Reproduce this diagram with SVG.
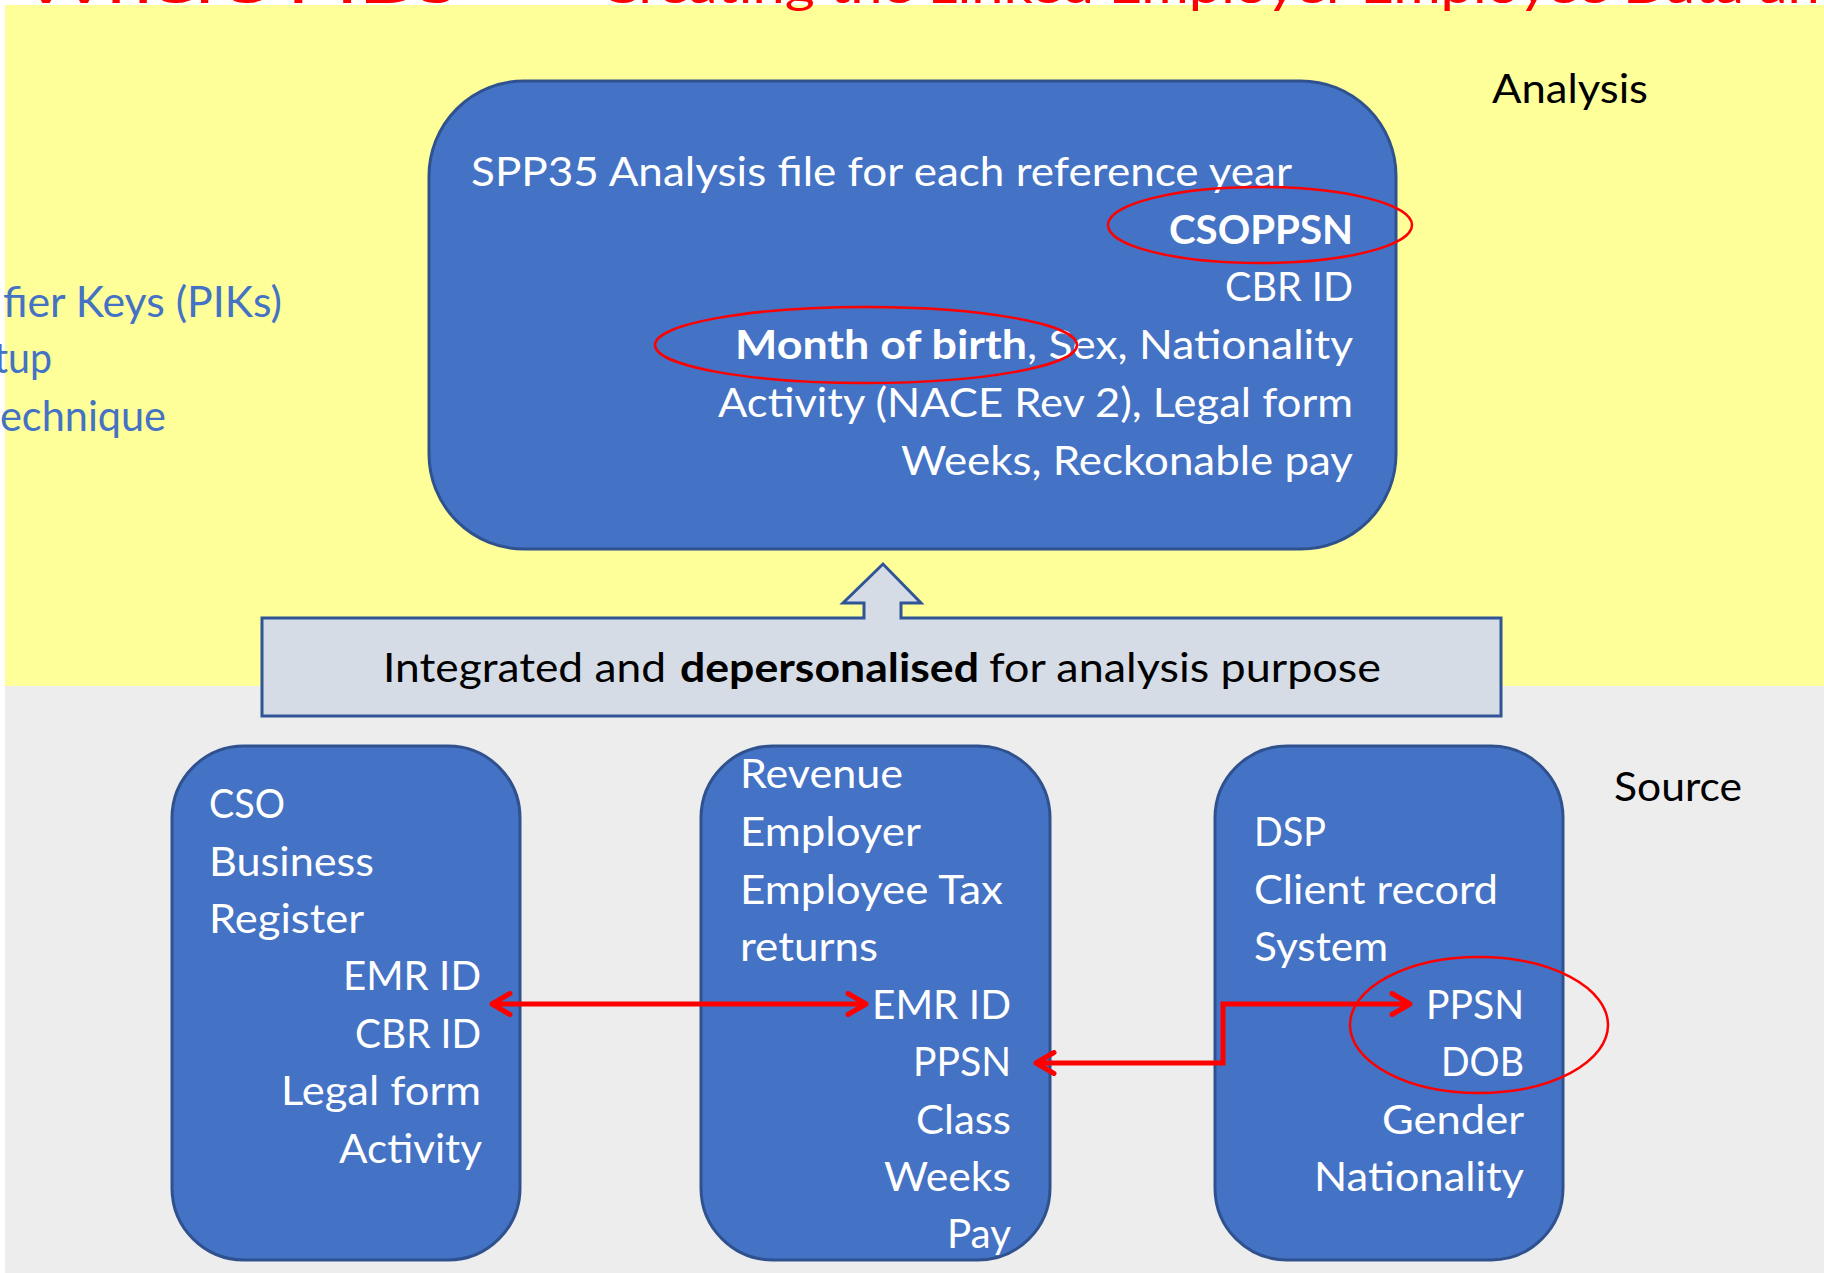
<svg xmlns="http://www.w3.org/2000/svg" width="1824" height="1273" viewBox="0 0 1824 1273">
<style>
  text { font-family: Lato, "Open Sans", "Liberation Sans", sans-serif; }
  .w { fill: #FFFFFF; font-size: 40px; }
  .b { font-weight: bold; }
  .k { fill: #000000; font-size: 40px; }
  .bl { fill: #4472C4; font-size: 42px; }
  .e { text-anchor: end; }
  .node { fill: #4472C4; stroke: #2F528F; stroke-width: 3; }
  .ring { fill: none; stroke: #FF0000; stroke-width: 2.5; }
  .conn { fill: none; stroke: #FF0000; stroke-width: 5; stroke-linejoin: miter; }
  .title { fill: #FF0000; font-size: 46px; }
</style>
<defs>
  <marker id="chev" markerUnits="userSpaceOnUse" viewBox="0 0 26 26" markerWidth="26" markerHeight="26" refX="21" refY="13" orient="auto-start-reverse">
    <path d="M5,2.5 L23,13 L5,23.5" fill="none" stroke="#FF0000" stroke-width="5" stroke-linecap="round" stroke-linejoin="round"/>
  </marker>
</defs>

<rect x="0" y="0" width="1824" height="1273" fill="#FFFFFF"/>
<rect x="5" y="5" width="1819" height="681" fill="#FFFF99"/>
<rect x="5" y="686" width="1819" height="587" fill="#EDEDED"/>

<g id="title">
  <text class="title" x="23" y="3" textLength="500" lengthAdjust="spacingAndGlyphs">Where PIDs –</text>
  <text class="title" x="600" y="3" textLength="1252" lengthAdjust="spacingAndGlyphs">Creating the Linked Employer Employee Data and</text>
</g>

<g id="side-notes">
  <text class="bl" x="3" y="317" textLength="279" lengthAdjust="spacingAndGlyphs">fier Keys (PIKs)</text>
  <text class="bl" x="-6" y="373" textLength="58" lengthAdjust="spacingAndGlyphs">tup</text>
  <text class="bl" x="0" y="431" textLength="166" lengthAdjust="spacingAndGlyphs">echnique</text>
</g>

<g id="label-analysis">
  <text class="k" x="1492" y="103" textLength="156" lengthAdjust="spacingAndGlyphs">Analysis</text>
</g>
<g id="label-source">
  <text class="k" x="1614" y="801" textLength="128" lengthAdjust="spacingAndGlyphs">Source</text>
</g>

<g id="analysis-file">
  <rect class="node" x="429" y="81" width="967" height="468" rx="95" ry="95"/>
  <text class="w" x="471" y="186" textLength="821" lengthAdjust="spacingAndGlyphs">SPP35 Analysis file for each reference year</text>
  <text class="w b e" x="1353" y="244" textLength="184" lengthAdjust="spacingAndGlyphs">CSOPPSN</text>
  <text class="w e" x="1353" y="301" textLength="128" lengthAdjust="spacingAndGlyphs">CBR ID</text>
  <text class="w b" x="735" y="359" textLength="292" lengthAdjust="spacingAndGlyphs">Month of birth</text>
  <text class="w e" x="1353" y="359" textLength="326" lengthAdjust="spacingAndGlyphs">, Sex, Nationality</text>
  <text class="w e" x="1353" y="417" textLength="635" lengthAdjust="spacingAndGlyphs">Activity (NACE Rev 2), Legal form</text>
  <text class="w e" x="1353" y="475" textLength="452" lengthAdjust="spacingAndGlyphs">Weeks, Reckonable pay</text>
  <ellipse class="ring" cx="1260" cy="225" rx="152" ry="38"/>
  <ellipse class="ring" cx="866" cy="345" rx="211" ry="38"/>
</g>

<g id="integration">
  <path d="M262,618 H864 V603 H843 L883,564 L921,603 H901 V618 H1501 V716 H262 Z" fill="#D6DCE5" stroke="#2F5597" stroke-width="3" stroke-linejoin="miter"/>
  <text class="k" x="383" y="682" textLength="283" lengthAdjust="spacingAndGlyphs">Integrated and</text>
  <text class="k b" x="680" y="682" textLength="299" lengthAdjust="spacingAndGlyphs">depersonalised</text>
  <text class="k" x="989" y="682" textLength="392" lengthAdjust="spacingAndGlyphs">for analysis purpose</text>
</g>

<g id="cso-business-register">
  <rect class="node" x="172" y="746" width="348" height="514" rx="72" ry="72"/>
  <text class="w" x="209" y="818" textLength="76" lengthAdjust="spacingAndGlyphs">CSO</text>
  <text class="w" x="209" y="876" textLength="165" lengthAdjust="spacingAndGlyphs">Business</text>
  <text class="w" x="209" y="933" textLength="155" lengthAdjust="spacingAndGlyphs">Register</text>
  <text class="w e" x="481" y="990" textLength="138" lengthAdjust="spacingAndGlyphs">EMR ID</text>
  <text class="w e" x="481" y="1048" textLength="126" lengthAdjust="spacingAndGlyphs">CBR ID</text>
  <text class="w e" x="481" y="1105" textLength="200" lengthAdjust="spacingAndGlyphs">Legal form</text>
  <text class="w e" x="482" y="1163" textLength="143" lengthAdjust="spacingAndGlyphs">Activity</text>
</g>

<g id="revenue">
  <rect class="node" x="701" y="746" width="349" height="514" rx="72" ry="72"/>
  <text class="w" x="740" y="788" textLength="163" lengthAdjust="spacingAndGlyphs">Revenue</text>
  <text class="w" x="740" y="846" textLength="181" lengthAdjust="spacingAndGlyphs">Employer</text>
  <text class="w" x="740" y="904" textLength="263" lengthAdjust="spacingAndGlyphs">Employee Tax</text>
  <text class="w" x="740" y="961" textLength="138" lengthAdjust="spacingAndGlyphs">returns</text>
  <text class="w e" x="1011" y="1019" textLength="139" lengthAdjust="spacingAndGlyphs">EMR ID</text>
  <text class="w e" x="1011" y="1076" textLength="98" lengthAdjust="spacingAndGlyphs">PPSN</text>
  <text class="w e" x="1011" y="1134" textLength="95" lengthAdjust="spacingAndGlyphs">Class</text>
  <text class="w e" x="1011" y="1191" textLength="127" lengthAdjust="spacingAndGlyphs">Weeks</text>
  <text class="w e" x="1011" y="1248" textLength="64" lengthAdjust="spacingAndGlyphs">Pay</text>
</g>

<g id="dsp">
  <rect class="node" x="1215" y="746" width="348" height="514" rx="72" ry="72"/>
  <text class="w" x="1254" y="846" textLength="72" lengthAdjust="spacingAndGlyphs">DSP</text>
  <text class="w" x="1254" y="904" textLength="244" lengthAdjust="spacingAndGlyphs">Client record</text>
  <text class="w" x="1254" y="961" textLength="134" lengthAdjust="spacingAndGlyphs">System</text>
  <text class="w e" x="1524" y="1019" textLength="98" lengthAdjust="spacingAndGlyphs">PPSN</text>
  <text class="w e" x="1524" y="1076" textLength="83" lengthAdjust="spacingAndGlyphs">DOB</text>
  <text class="w e" x="1524" y="1134" textLength="142" lengthAdjust="spacingAndGlyphs">Gender</text>
  <text class="w e" x="1524" y="1191" textLength="210" lengthAdjust="spacingAndGlyphs">Nationality</text>
  <ellipse class="ring" cx="1479" cy="1025" rx="129" ry="68"/>
</g>

<g id="connectors">
  <path class="conn" d="M494,1004 H864" marker-start="url(#chev)" marker-end="url(#chev)"/>
  <path class="conn" d="M1038,1063 H1223 V1004 H1408" marker-start="url(#chev)" marker-end="url(#chev)"/>
</g>
</svg>
